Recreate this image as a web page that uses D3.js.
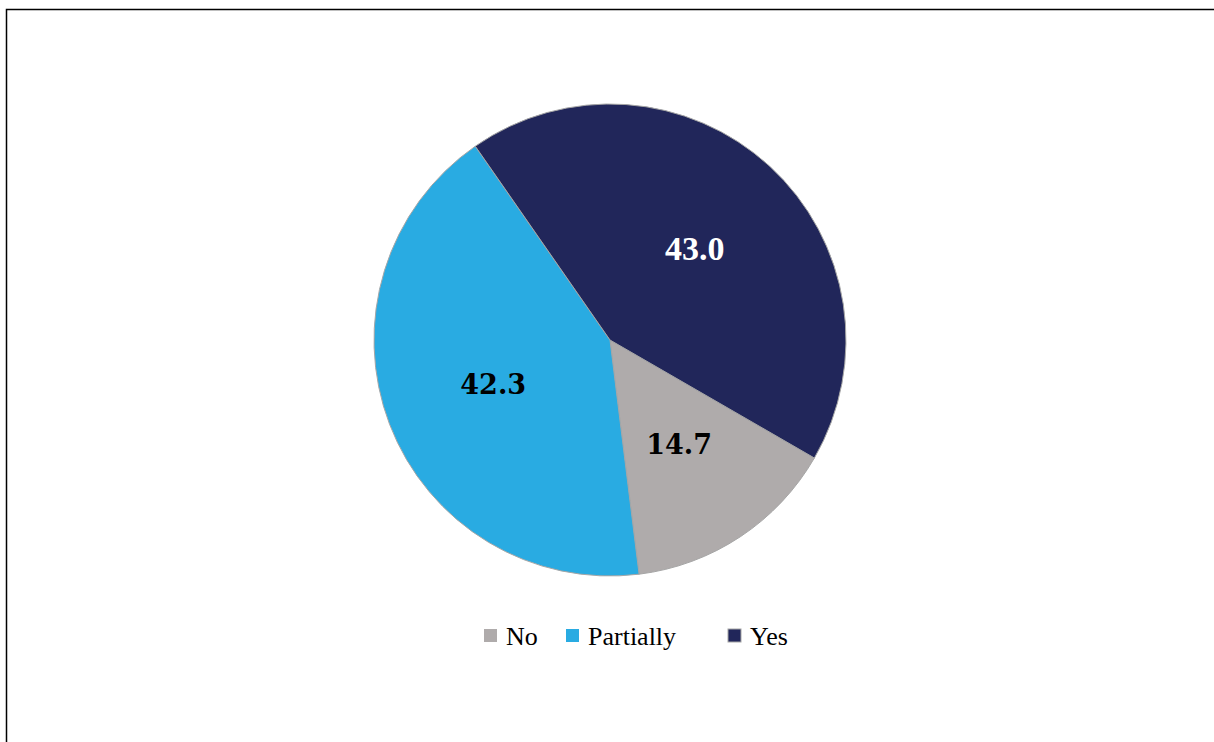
<!DOCTYPE html>
<html>
<head>
<meta charset="utf-8">
<script src="https://cdn.jsdelivr.net/npm/d3@7"></script>
<style>
  body { margin: 0; background: #fff; }
  svg { display: block; }
  .serif { font-family: "Liberation Serif", "Times New Roman", Times, serif; }
  .slab { font-family: "DejaVu Serif", serif; }
</style>
</head>
<body>
<svg id="chart" width="1214" height="742"></svg>
<script>
// data
var categories = ["No", "Partially", "Yes"];
var values = [14.7, 42.3, 43.0];
var colors = ["#AFABAB", "#29ABE2", "#21265A"];
var labelColors = ["#000", "#000", "#fff"];

var cx = 610, cy = 340, radius = 236;

var svg = d3.select("#chart");

// outer frame (only left and top edges show)
svg.append("rect")
    .attr("x", 6.5).attr("y", 9.5)
    .attr("width", 1300).attr("height", 800)
    .attr("fill", "none")
    .attr("stroke", "#000")
    .attr("stroke-width", 1.5);

var color = d3.scaleOrdinal().domain(categories).range(colors);

// first slice starts ~120 degrees clockwise from 12 o'clock
var start = 120 * Math.PI / 180;
var pie = d3.pie()
    .sort(null)
    .startAngle(start)
    .endAngle(start + 2 * Math.PI);

var arc = d3.arc().innerRadius(0).outerRadius(radius);
var labelArc = d3.arc().innerRadius(radius * 0.53).outerRadius(radius * 0.53);

var arcs = pie(values);

var g = svg.append("g").attr("transform", "translate(" + cx + "," + cy + ")");

g.selectAll("path")
    .data(arcs)
  .enter().append("path")
    .attr("d", arc)
    .attr("fill", function(d, i) { return color(categories[i]); })
    .attr("stroke", "#a6a6a6")
    .attr("stroke-width", 1);

g.selectAll("text")
    .data(arcs)
  .enter().append("text")
    .attr("class", function(d, i) { return i == 2 ? "serif" : "slab"; })
    .attr("transform", function(d) { return "translate(" + labelArc.centroid(d) + ")"; })
    .attr("text-anchor", "middle")
    .attr("dy", ".35em")
    .attr("fill", function(d, i) { return labelColors[i]; })
    .attr("font-weight", "bold")
    .attr("font-size", function(d, i) { return i == 2 ? "34px" : "27px"; })
    .text(function(d) { return d.data.toFixed(1); });

// legend
var legendX = [484, 566, 728];
var legend = svg.selectAll(".legend")
    .data(categories)
  .enter().append("g")
    .attr("class", "legend")
    .attr("transform", function(d, i) { return "translate(" + legendX[i] + ",629)"; });

legend.append("rect")
    .attr("width", 13).attr("height", 13)
    .attr("fill", function(d) { return color(d); })
    .attr("stroke", function(d, i) { return i == 2 ? "#a6a6a6" : "none"; });

legend.append("text")
    .attr("class", "serif")
    .attr("x", 22).attr("y", 7)
    .attr("dy", ".35em")
    .attr("font-size", "26px")
    .attr("fill", "#000")
    .text(function(d) { return d; });
</script>
</body>
</html>
